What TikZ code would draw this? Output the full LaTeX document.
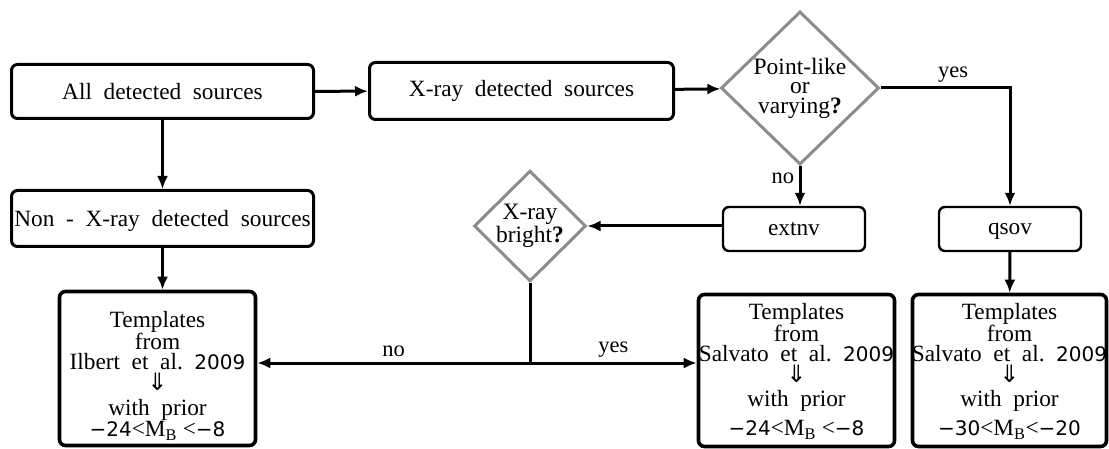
\documentclass[tikz,border=0pt]{standalone}
\usepackage{fontspec}
\setmainfont{Liberation Serif}
\newfontfamily\numf{DejaVu Sans}
\usetikzlibrary{shapes.geometric,arrows.meta}
\definecolor{dgray}{RGB}{140,140,140}
\newcommand{\nm}[1]{{\numf\fontsize{20}{19.5}\selectfont #1}}
\newcommand{\dnarr}{{\numf\fontsize{24}{19.5}\selectfont ⇓}}
\begin{document}
\begin{tikzpicture}[x=1pt,y=-1pt,
  box/.style={draw, line width=3pt, rounded corners=6pt, inner sep=0pt, align=center,
    font=\fontsize{23.3}{23}\selectfont},
  sbox/.style={box, line width=2.4pt, text depth=0pt},
  tbox/.style={draw, line width=3.6pt, rounded corners=6pt, inner sep=0pt},
  ttext/.style={inner sep=0pt, align=center, anchor=north, font=\fontsize{23.3}{19.5}\selectfont},
  dia/.style={draw=dgray, line width=3pt, diamond, inner sep=0pt, align=center,
    font=\fontsize{23.5}{19.5}\selectfont},
  arr/.style={line width=3pt, -{Latex[length=13pt,width=11pt]}},
  ln/.style={line width=3pt},
  lab/.style={font=\fontsize{22.5}{22}\selectfont}]
\useasboundingbox (0,0) rectangle (1109,449);
\node[box, minimum width=302pt, minimum height=54pt] (all) at (162.5,91.5) {All\ \ detected\ \ sources};
\node[box, minimum width=304pt, minimum height=57pt] (xray) at (521.5,91) {X-ray\ \ detected\ \ sources};
\node[box, minimum width=302pt, minimum height=56pt, text depth=0pt] (non) at (162.5,218.5) {Non\ \ -\ \ X-ray\ \ detected\ \ sources};
\node[dia, minimum width=158pt, minimum height=153pt] (pv) at (800,88) {Point-like\\or\\varying\textbf{?}};
\node[sbox, minimum width=142pt, minimum height=44pt] (extnv) at (794,229) {extnv};
\node[sbox, minimum width=142pt, minimum height=44pt] (qsov) at (1010,229) {qsov};
\node[dia, minimum width=112pt, minimum height=110pt, font=\fontsize{23.5}{20}\selectfont] (xb) at (530,226) {X-ray\\bright\textbf{?}};
\node[tbox, minimum width=196pt, minimum height=154pt] (ilb) at (157.5,368.5) {};
\node[tbox, minimum width=196pt, minimum height=152pt] (sal1) at (796.5,370.5) {};
\node[tbox, minimum width=194pt, minimum height=152pt] (sal2) at (1009.5,370.5) {};
\node[ttext, font=\fontsize{23.3}{20}\selectfont] (ilbt) at (157.5,311)
  {Templates\\from\\Ilbert\ \ et\ \ al.\ \ \nm{2009}\\[1pt]\dnarr\\[5pt]with\ \ prior\\\nm{−24}<M\textsubscript{B} <\nm{−8}};
\node[ttext] (sal1t) at (796.5,303)
  {Templates\\from\\Salvato\ \ et\ \ al.\ \ \nm{2009}\\[2pt]\dnarr\\[4pt]with\ \ prior\\[8pt]\nm{−24}<M\textsubscript{B} <\nm{−8}};
\node[ttext] (sal2t) at (1009.5,303)
  {Templates\\from\\Salvato\ \ et\ \ al.\ \ \nm{2009}\\[2pt]\dnarr\\[4pt]with\ \ prior\\[8pt]\nm{−30}<M\textsubscript{B}<\nm{−20}};
\coordinate (j) at (530,363);
\draw[arr] (all) -- (xray);
\draw[arr] (xray) -- (pv);
\draw[arr] (pv.east) -| node[lab, pos=0.28, above=1pt] {yes} (qsov.north);
\draw[arr] (pv.south) -- node[lab, left=1pt, pos=0.3] {no} (pv.south |- extnv.north);
\draw[arr] (extnv.west |- xb.east) -- (xb.east);
\draw[arr] (all) -- (non);
\draw[arr] (non.south) -- (non.south |- ilb.north);
\draw[arr] (qsov) -- (sal2);
\draw[ln] (xb.south) -- (j);
\draw[arr] (j) -- node[lab, above=1pt] {no} (j -| ilb.east);
\draw[arr] (j) -- node[lab, above=1pt] {yes} (j -| sal1.west);
\end{tikzpicture}
\end{document}
